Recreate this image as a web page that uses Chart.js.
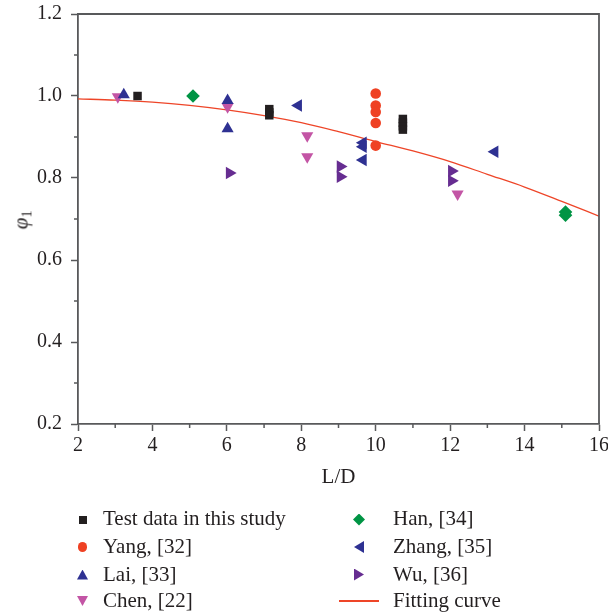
<!DOCTYPE html>
<html>
<head>
<meta charset="utf-8">
<script src="https://cdn.jsdelivr.net/npm/chart.js@4.4.1/dist/chart.umd.min.js"></script>
<style>
    html, body { margin: 0; padding: 0; background: #fff; }
    #wrap { position: relative; width: 608px; height: 616px; font-family: "Liberation Serif", "DejaVu Serif", serif; color: #231f20; }
    #chart { position: absolute; left: 0; top: 0; }
    #yTitle { position: absolute; left: 22px; top: 220px; transform: translate(-50%, -50%) rotate(-90deg); font-size: 21px; white-space: nowrap; }
    #yTitle i { font-style: italic; }
    #yTitle sub { font-size: 14px; vertical-align: -4px; }
    .lg-text { position: absolute; font-size: 21px; line-height: 24px; white-space: nowrap; }
    .lg-mark { position: absolute; }
</style>
</head>
<body>
<div id="wrap">
    <canvas id="chart" width="608" height="616"></canvas>
    <div id="yTitle"><i>φ</i><sub>1</sub></div>
    <div id="legend"></div>
</div>
<script>
// ==================== Data ====================
const xTicks = [2, 4, 6, 8, 10, 12, 14, 16];
const yTicks = [0.2, 0.4, 0.6, 0.8, 1.0, 1.2];

const testLD   = [3.6, 7.14, 7.14, 7.14, 10.73, 10.73, 10.73, 10.73];
const testPhi  = [1.0, 0.968, 0.960, 0.953, 0.944, 0.935, 0.926, 0.918];
const yangLD   = [10.0, 10.0, 10.0, 10.0, 10.0];
const yangPhi  = [1.006, 0.977, 0.961, 0.934, 0.879];
const laiLD    = [3.23, 6.02, 6.02];
const laiPhi   = [1.003, 0.989, 0.920];
const chenLD   = [3.07, 6.02, 8.16, 8.16, 12.2];
const chenPhi  = [0.998, 0.974, 0.903, 0.852, 0.761];
const hanLD    = [5.09, 15.1, 15.1];
const hanPhi   = [1.0, 0.717, 0.709];
const zhangLD  = [7.92, 9.66, 9.66, 9.66, 13.2];
const zhangPhi = [0.977, 0.886, 0.876, 0.844, 0.864];
const wuLD     = [6.07, 9.05, 9.05, 12.04, 12.04];
const wuPhi    = [0.812, 0.828, 0.803, 0.817, 0.793];
const fitLD    = [2, 3, 4, 5, 6, 7, 8, 9, 10, 11, 12, 13, 14, 15, 16];
const fitPhi   = [0.993, 0.990, 0.985, 0.977, 0.966, 0.952, 0.935, 0.913, 0.889, 0.866, 0.840, 0.809, 0.778, 0.743, 0.707];

const axisColor = '#58595b';
const textColor = '#231f20';

const series = [
    { label: 'Test data in this study', xs: testLD,  ys: testPhi,  color: '#231f20', style: 'rect',     rot: 0,   r: 6,   mark: 'square' },
    { label: 'Yang, [32]',              xs: yangLD,  ys: yangPhi,  color: '#ef4123', style: 'circle',   rot: 0,   r: 5.3, mark: 'circle' },
    { label: 'Lai, [33]',               xs: laiLD,   ys: laiPhi,   color: '#2e3192', style: 'triangle', rot: 0,   r: 7,   mark: 'up' },
    { label: 'Chen, [22]',              xs: chenLD,  ys: chenPhi,  color: '#c355a5', style: 'triangle', rot: 180, r: 7,   mark: 'down' },
    { label: 'Han, [34]',               xs: hanLD,   ys: hanPhi,   color: '#009444', style: 'rectRot',  rot: 0,   r: 6.8, mark: 'diamond' },
    { label: 'Zhang, [35]',             xs: zhangLD, ys: zhangPhi, color: '#2e3192', style: 'triangle', rot: -90, r: 7.2, mark: 'left' },
    { label: 'Wu, [36]',                xs: wuLD,    ys: wuPhi,    color: '#662d91', style: 'triangle', rot: 90,  r: 7.2, mark: 'right' }
];

const pairs = (xs, ys) => xs.map((x, i) => ({ x, y: ys[i] }));

const datasets = series.map(s => ({
    label: s.label,
    data: pairs(s.xs, s.ys),
    backgroundColor: s.color,
    borderColor: s.color,
    pointStyle: s.style,
    pointRotation: s.rot,
    pointRadius: s.r,
    pointBorderWidth: 0,
    showLine: false,
    order: 0
}));
datasets.push({
    label: 'Fitting curve',
    data: pairs(fitLD, fitPhi),
    borderColor: '#ee4528',
    borderWidth: 1.3,
    pointRadius: 0,
    showLine: true,
    cubicInterpolationMode: 'monotone',
    order: 1
});

// top/right frame and minor ticks
const frameAndMinor = {
    id: 'frameAndMinor',
    afterDraw(chart) {
        const { ctx, chartArea: a, scales: { x, y } } = chart;
        ctx.save();
        ctx.strokeStyle = axisColor;
        ctx.lineWidth = 1.8;
        ctx.beginPath();
        ctx.moveTo(a.left, a.top);
        ctx.lineTo(a.right, a.top);
        ctx.lineTo(a.right, a.bottom);
        ctx.stroke();
        ctx.lineWidth = 1.5;
        ctx.beginPath();
        for (let i = 0; i < x.ticks.length - 1; i++) {
            const px = x.getPixelForValue((x.ticks[i].value + x.ticks[i + 1].value) / 2);
            ctx.moveTo(px, a.bottom);
            ctx.lineTo(px, a.bottom + 4);
        }
        for (let i = 0; i < y.ticks.length - 1; i++) {
            const py = y.getPixelForValue((y.ticks[i].value + y.ticks[i + 1].value) / 2);
            ctx.moveTo(a.left, py);
            ctx.lineTo(a.left - 4, py);
        }
        ctx.stroke();
        ctx.restore();
    }
};

const tickFont = { family: '"Liberation Serif", "DejaVu Serif", serif', size: 20 };

new Chart(document.getElementById('chart'), {
    type: 'scatter',
    data: { datasets },
    plugins: [frameAndMinor],
    options: {
        responsive: false,
        animation: false,
        layout: { padding: { left: 0, right: 9, top: 14, bottom: 115 } },
        plugins: { legend: { display: false }, tooltip: { enabled: false } },
        scales: {
            x: {
                type: 'linear',
                min: 2,
                max: 16,
                afterBuildTicks: scale => { scale.ticks = xTicks.map(v => ({ value: v })); },
                afterFit: scale => { scale.height = 77; scale.paddingLeft = 0; scale.paddingRight = 0; },
                ticks: { color: textColor, font: tickFont, padding: 3, maxRotation: 0, autoSkip: false },
                grid: { drawOnChartArea: false, tickLength: 7, color: axisColor, tickWidth: 1.5 },
                border: { color: axisColor, width: 1.8 },
                title: {
                    display: true,
                    text: 'L/D',
                    color: textColor,
                    font: { family: '"Liberation Serif", "DejaVu Serif", serif', size: 21 },
                    padding: { top: 0, bottom: 11 }
                }
            },
            y: {
                type: 'linear',
                min: 0.2,
                max: 1.2,
                afterBuildTicks: scale => { scale.ticks = yTicks.map(v => ({ value: v })); },
                afterFit: scale => { scale.width = 78; scale.paddingTop = 0; scale.paddingBottom = 0; },
                ticks: { color: textColor, font: tickFont, padding: 9, callback: v => v.toFixed(1) },
                grid: { drawOnChartArea: false, tickLength: 7, color: axisColor, tickWidth: 1.5 },
                border: { color: axisColor, width: 1.8 }
            }
        }
    }
});

// ==================== Legend ====================
const legendItems = [
    ...series.map(s => ({ label: s.label, color: s.color, mark: s.mark })),
    { label: 'Fitting curve', color: '#ee4528', mark: 'line' }
];
const rowBase = [525, 553, 580.5, 607];
const rowMid = [519.5, 547, 574.5, 601];
const markShapes = {
    square:  { w: 8, h: 8, css: '' },
    circle:  { w: 9.5, h: 9.5, css: 'border-radius:50%;' },
    up:      { w: 11, h: 10, css: 'clip-path:polygon(50% 0,100% 100%,0 100%);' },
    down:    { w: 11, h: 10, css: 'clip-path:polygon(0 0,100% 0,50% 100%);' },
    diamond: { w: 12, h: 12, css: 'clip-path:polygon(50% 0,100% 50%,50% 100%,0 50%);' },
    left:    { w: 10, h: 12, css: 'clip-path:polygon(100% 0,100% 100%,0 50%);' },
    right:   { w: 10, h: 12, css: 'clip-path:polygon(0 0,100% 50%,0 100%);' },
    line:    { w: 40, h: 1.4, css: '' }
};
const lg = [];
legendItems.forEach((it, i) => {
    const col = i < 4 ? 0 : 1;
    const row = i % 4;
    const cx = col === 0 ? 82.5 : 359;
    const tx = col === 0 ? 103 : 393;
    const m = markShapes[it.mark];
    lg.push(`<div class="lg-mark" style="left:${cx - m.w / 2}px;top:${rowMid[row] - m.h / 2}px;width:${m.w}px;height:${m.h}px;background:${it.color};${m.css}"></div>`);
    lg.push(`<div class="lg-text" style="left:${tx}px;top:${rowBase[row] - 19}px">${it.label}</div>`);
});
document.getElementById('legend').innerHTML = lg.join('');
</script>
</body>
</html>
